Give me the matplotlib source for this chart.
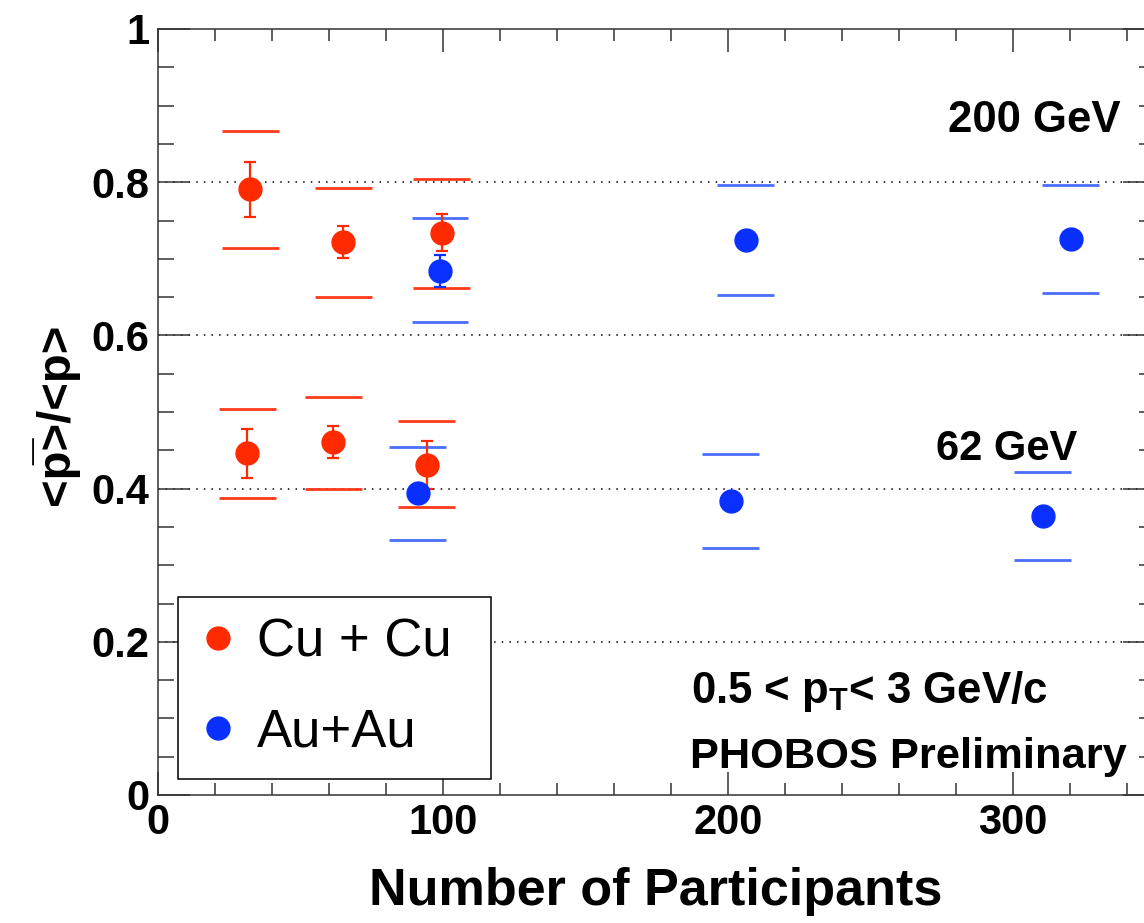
import numpy as np
import matplotlib
matplotlib.use("Agg")
import matplotlib.pyplot as plt
from matplotlib.lines import Line2D
from matplotlib.ticker import MultipleLocator

plt.rcParams['font.family'] = ['Liberation Sans', 'DejaVu Sans']
plt.rcParams['mathtext.fontset'] = 'custom'
plt.rcParams['mathtext.rm'] = 'Liberation Sans:bold'
plt.rcParams['mathtext.bf'] = 'Liberation Sans:bold'

# Cu+Cu, 200 GeV
cu200_npart = [32.4, 65.1, 99.6]
cu200_ratio = [0.791, 0.722, 0.734]
cu200_stat = [0.036, 0.021, 0.024]
cu200_sys_hi = [0.867, 0.792, 0.804]
cu200_sys_lo = [0.714, 0.650, 0.662]

# Au+Au, 200 GeV
au200_npart = [99.0, 206.3, 320.4]
au200_ratio = [0.684, 0.724, 0.726]
au200_stat = [0.021, 0.008, 0.008]
au200_sys_hi = [0.753, 0.796, 0.796]
au200_sys_lo = [0.617, 0.653, 0.655]

# Cu+Cu, 62 GeV
cu62_npart = [31.3, 61.6, 94.4]
cu62_ratio = [0.446, 0.461, 0.431]
cu62_stat = [0.032, 0.021, 0.031]
cu62_sys_hi = [0.504, 0.520, 0.488]
cu62_sys_lo = [0.388, 0.400, 0.376]

# Au+Au, 62 GeV
au62_npart = [91.2, 201.0, 310.6]
au62_ratio = [0.394, 0.384, 0.364]
au62_stat = [0.008, 0.008, 0.008]
au62_sys_hi = [0.454, 0.445, 0.422]
au62_sys_lo = [0.333, 0.322, 0.307]

red = '#ff2a00'
blue = '#0a30ff'
red_sys = '#ff3a1a'
blue_sys = '#4a6eff'
half_w = 10.0

W, H = 1144, 923
fig = plt.figure(figsize=(W / 100, H / 100), dpi=100)
ax = fig.add_axes([158/W, 1 - 795/H, 997/W, 766/H])

def draw(npart, ratio, stat, hi, lo, col, scol):
    x = np.array(npart)
    ax.hlines(hi, x - half_w, x + half_w, color=scol, lw=2, zorder=3)
    ax.hlines(lo, x - half_w, x + half_w, color=scol, lw=2, zorder=3)
    ax.errorbar(x, ratio, yerr=stat, fmt='o', color=col, ms=16.5,
                elinewidth=1.6, capsize=4, capthick=1.6, zorder=4)

draw(cu200_npart, cu200_ratio, cu200_stat, cu200_sys_hi, cu200_sys_lo, red, red_sys)
draw(cu62_npart, cu62_ratio, cu62_stat, cu62_sys_hi, cu62_sys_lo, red, red_sys)
draw(au200_npart, au200_ratio, au200_stat, au200_sys_hi, au200_sys_lo, blue, blue_sys)
draw(au62_npart, au62_ratio, au62_stat, au62_sys_hi, au62_sys_lo, blue, blue_sys)

ax.set_xlim(0, 350)
ax.set_ylim(0, 1)
ax.xaxis.set_major_locator(MultipleLocator(100))
ax.xaxis.set_minor_locator(MultipleLocator(20))
ax.yaxis.set_minor_locator(MultipleLocator(0.05))
ax.set_yticks([0, 0.2, 0.4, 0.6, 0.8, 1.0])
ax.set_yticklabels(['0', '0.2', '0.4', '0.6', '0.8', '1'])

for y in [0.2, 0.4, 0.6, 0.8]:
    ax.axhline(y, color='black', lw=1.1, ls=(0, (1, 4)), zorder=1)

tc = '#333333'
ax.tick_params(which='both', direction='in', top=True, right=True, color=tc,
               width=1.1, labelsize=30)
ax.tick_params(axis='y', which='major', length=23, pad=6)
ax.tick_params(axis='y', which='minor', length=11.5)
ax.tick_params(axis='x', which='major', length=16.5, pad=6)
ax.tick_params(axis='x', which='minor', length=8.6)
for lab in ax.get_xticklabels() + ax.get_yticklabels():
    lab.set_fontweight('bold')
for s in ax.spines.values():
    s.set_linewidth(1.1)
    s.set_color(tc)

def ftext(px, py, s, **kw):
    fig.text(px / W, 1 - py / H, s, **kw)

ftext(1120, 132, '200 GeV', fontsize=31.5, fontweight='bold', ha='right', va='baseline')
ftext(1077, 460, '62 GeV', fontsize=30, fontweight='bold', ha='right', va='baseline')
ftext(691, 703, r'0.5 < p$_{\mathbf{T}}$< 3 GeV/c', fontsize=31.5,
      fontweight='bold', ha='left', va='baseline')
ftext(690, 768, 'PHOBOS Preliminary', fontsize=31.2, fontweight='bold',
      ha='left', va='baseline')
ftext(656, 905, 'Number of Participants', fontsize=37.5, fontweight='bold',
      ha='center', va='baseline')
ftext(55, 414, '<p\u0305>/<p>', fontsize=34, fontweight='bold',
      rotation=90, ha='center', va='center')

handles = [Line2D([], [], ls='none', marker='o', ms=16.5, color=red),
           Line2D([], [], ls='none', marker='o', ms=16.5, color=blue)]
leg = ax.legend(handles, ['Cu + Cu', 'Au+Au'], loc='lower left',
                bbox_to_anchor=(20/997, 16/766, 313/997, 186/766), mode='expand',
                borderaxespad=0, fontsize=38, frameon=True, fancybox=False,
                framealpha=1, edgecolor='black', borderpad=0.4,
                handlelength=0.72, handletextpad=0.38, labelspacing=0.76)
leg.get_frame().set_linewidth(1.1)

fig.savefig('out.png', dpi=100)
